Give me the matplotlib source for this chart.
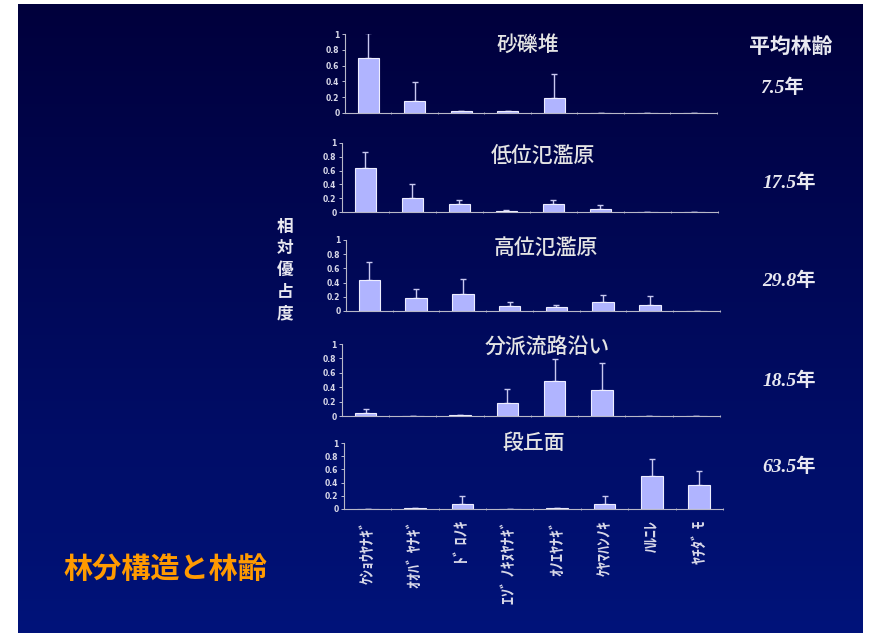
import matplotlib.pyplot as plt
import numpy as np
from matplotlib.colors import LinearSegmentedColormap

# species (half-width katakana, as on the slide)
species = ["ｹｼｮｳﾔﾅｷﾞ", "ｵｵﾊﾞ ﾔﾅｷﾞ", "ﾄﾞ ﾛﾉｷ", "ｴｿﾞ ﾉｷﾇﾔﾅｷﾞ",
           "ｵﾉｴﾔﾅｷﾞ", "ｹﾔﾏﾊﾝﾉｷ", "ﾊﾙﾆﾚ", "ﾔﾁﾀﾞ ﾓ"]

sites = ["砂礫堆", "低位氾濫原", "高位氾濫原", "分派流路沿い", "段丘面"]
ages = ["7.5年", "17.5年", "29.8年", "18.5年", "63.5年"]

# relative dominance (mean) and upper error per site
sarekitai = [0.69, 0.15, 0.02, 0.02, 0.19, 0.005, 0.005, 0.005]
sarekitai_err = [0.32, 0.24, 0.01, 0.005, 0.30, 0, 0, 0]
teii = [0.64, 0.20, 0.11, 0.02, 0.12, 0.05, 0.005, 0.005]
teii_err = [0.23, 0.20, 0.07, 0.01, 0.06, 0.05, 0, 0]
koui = [0.44, 0.18, 0.24, 0.07, 0.05, 0.13, 0.08, 0.005]
koui_err = [0.25, 0.13, 0.21, 0.05, 0.04, 0.10, 0.13, 0]
bunpa = [0.04, 0.005, 0.01, 0.18, 0.49, 0.36, 0.005, 0.005]
bunpa_err = [0.06, 0, 0.005, 0.20, 0.30, 0.38, 0, 0]
dankyu = [0.005, 0.01, 0.08, 0.005, 0.01, 0.08, 0.50, 0.36]
dankyu_err = [0, 0, 0.12, 0, 0, 0.11, 0.26, 0.21]

values = [sarekitai, teii, koui, bunpa, dankyu]
errors = [sarekitai_err, teii_err, koui_err, bunpa_err, dankyu_err]

W, H = 870, 633
fig = plt.figure(figsize=(W / 100, H / 100), dpi=100)
fig.patch.set_facecolor("white")

# slide background (vertical gradient)
bg = fig.add_axes([18 / W, 0, 845 / W, 629 / H])
cmap = LinearSegmentedColormap.from_list("slide", ["#00003c", "#00137a"])
bg.imshow(np.linspace(0, 1, 256).reshape(-1, 1), cmap=cmap, aspect="auto")
bg.axis("off")

# panel boxes in pixels: (left x, right x, y of 0, y of 1)
boxes = [(345, 717, 113, 34), (342, 718, 212, 143), (346, 720, 311, 240),
         (342, 720, 416, 344), (344, 723, 509, 443)]
title_pos = [(528, 45), (543, 157), (546, 249), (547, 348), (534, 443)]
age_pos = [(782, 88), (789, 183), (789, 281), (789, 381), (789, 467)]

fg = "#d8d8e8"
x = np.arange(len(species))
for i, (l, r, y0, y1) in enumerate(boxes):
    ax = fig.add_axes([l / W, 1 - y0 / H, (r - l) / W, (y0 - y1) / H])
    ax.patch.set_alpha(0)
    ax.bar(x, values[i], width=0.46, color="#b0b4ff", edgecolor="#eeeeff",
           linewidth=0.8, zorder=2)
    ax.errorbar(x, values[i], yerr=[np.zeros(len(x)), errors[i]], fmt="none",
                ecolor="#c8c8f0", elinewidth=1, capsize=2.5, capthick=1, zorder=1)
    ax.set_xlim(-0.5, 7.5)
    ax.set_ylim(0, 1)
    ax.set_yticks([0, 0.2, 0.4, 0.6, 0.8, 1])
    ax.set_yticklabels(["0", "0.2", "0.4", "0.6", "0.8", "1"], weight="bold")
    for s in ["top", "right"]:
        ax.spines[s].set_visible(False)
    for s in ["left", "bottom"]:
        ax.spines[s].set_color("#b8b8c8")
        ax.spines[s].set_linewidth(0.8)
    ax.tick_params(axis="y", colors=fg, labelsize=5.5, length=2, width=0.6, pad=2)
    ax.set_xticks(x + 0.5, minor=True)
    ax.tick_params(axis="x", which="minor", length=2, width=0.6, colors="#b8b8c8",
                   direction="inout")
    ax.set_xticks(x)
    if i == len(boxes) - 1:
        ax.set_xticklabels(species, rotation=90, va="top", ha="center",
                           family="Noto Sans CJK JP", weight="bold",
                           fontsize=11.5, color=fg)
        ax.tick_params(axis="x", which="major", length=0, pad=8)
    else:
        ax.set_xticklabels([])
        ax.tick_params(axis="x", which="major", length=0)

    tx, ty = title_pos[i]
    fig.text(tx / W, 1 - ty / H, sites[i], ha="center", va="center",
             family="Noto Sans CJK JP", weight="medium", fontsize=15,
             color="#e4e4e4")
    axx, ayy = age_pos[i]
    fig.text(axx / W, 1 - ayy / H, ages[i], ha="center", va="center",
             family=["Liberation Serif", "Noto Sans CJK JP"], style="italic",
             weight="bold", fontsize=14, color="#e8e8f0")

fig.text(791 / W, 1 - 46 / H, "平均林齢", ha="center", va="center",
         family="Noto Sans CJK JP", weight="bold", fontsize=15, color="#e8e8f0")
fig.text(285 / W, 1 - 270 / H, "\n".join("相対優占度"), ha="center", va="center",
         family="Noto Sans CJK JP", weight="bold", fontsize=12, linespacing=1.25,
         color="#e8e8f0")
fig.text(165 / W, 1 - 569 / H, "林分構造と林齢", ha="center", va="center",
         family="Noto Sans CJK JP", weight="bold", fontsize=21, color="#ff9a00")

fig.savefig("out.png", dpi=100, facecolor=fig.get_facecolor())
